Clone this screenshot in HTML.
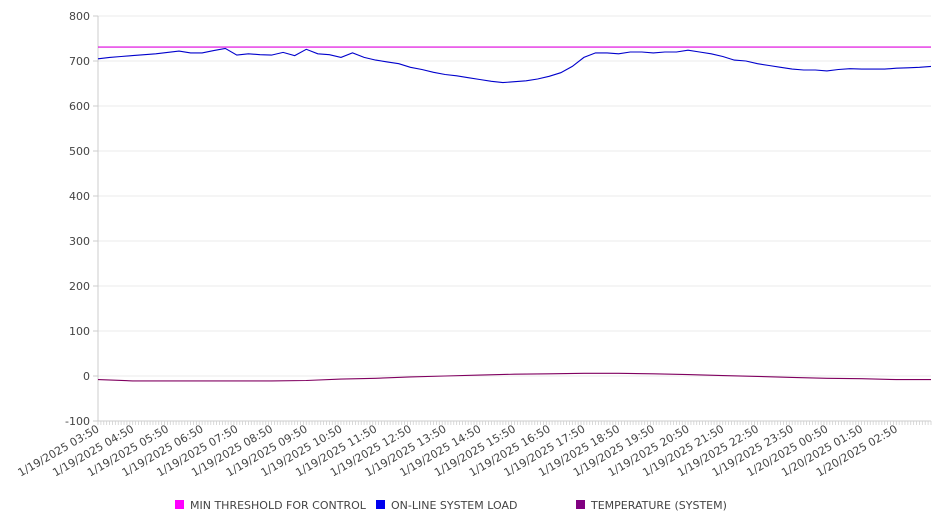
<!DOCTYPE html>
<html><head><meta charset="utf-8"><style>
body{margin:0;background:#fff;}
svg{font-family:"DejaVu Sans","Liberation Sans",sans-serif;}
</style></head><body>
<svg id="chart" width="946" height="526" viewBox="0 0 946 526" xmlns="http://www.w3.org/2000/svg">
<g id="grid"></g>
<g id="yaxis"></g>
<g id="xaxis"></g>
<g id="series"></g>
<g font-size="11" fill="#444">
  <g><rect x="175" y="500" width="9" height="9" fill="#ff00ff"/><text x="190" y="509">MIN THRESHOLD FOR CONTROL</text></g>
  <g><rect x="376" y="500" width="9" height="9" fill="#0000ee"/><text x="391" y="509">ON-LINE SYSTEM LOAD</text></g>
  <g><rect x="576" y="500" width="9" height="9" fill="#800080"/><text x="591" y="509">TEMPERATURE (SYSTEM)</text></g>
</g>
</svg>
<script>
const yTicks=[-100,0,100,200,300,400,500,600,700,800];
const xLabels=["1/19/2025 03:50","1/19/2025 04:50","1/19/2025 05:50","1/19/2025 06:50","1/19/2025 07:50","1/19/2025 08:50","1/19/2025 09:50","1/19/2025 10:50","1/19/2025 11:50","1/19/2025 12:50","1/19/2025 13:50","1/19/2025 14:50","1/19/2025 15:50","1/19/2025 16:50","1/19/2025 17:50","1/19/2025 18:50","1/19/2025 19:50","1/19/2025 20:50","1/19/2025 21:50","1/19/2025 22:50","1/19/2025 23:50","1/20/2025 00:50","1/20/2025 01:50","1/20/2025 02:50"];
const thresholdValue=731;
const loadValues=[705,708,710,712,714,716,719,722,718,718,723,728,713,716,714,713,719,712,726,716,714,708,718,708,702,698,694,686,681,675,670,667,663,659,655,652,654,656,660,666,674,688,708,718,718,716,720,720,718,720,720,724,720,716,710,702,700,694,690,686,682,680,680,678,681,683,682,682,682,684,685,686,688];
const tempValues=[-8,-11,-11,-11,-11,-11,-10,-7,-5,-2,0,2,4,5,6,6,5,3,1,-1,-3,-5,-6,-8,-8];

const NS="http://www.w3.org/2000/svg";
const L=98,R=931,T=16,B=421,yMin=-100,yMax=800,hours=24;
const y=v=>T+(yMax-v)/(yMax-yMin)*(B-T);
const xh=h=>L+h/hours*(R-L);
function mk(tag,attrs,parent){const e=document.createElementNS(NS,tag);for(const k in attrs)e.setAttribute(k,attrs[k]);parent.appendChild(e);return e;}
const grid=document.getElementById('grid'),ya=document.getElementById('yaxis'),xa=document.getElementById('xaxis'),se=document.getElementById('series');
yTicks.forEach(t=>{
  const g=mk('line',{x1:L,x2:R,y1:y(t),y2:y(t),stroke:'#ebebeb','stroke-width':1},grid);
  
  
  const tk=mk('line',{x1:L-5,x2:L,y1:y(t),y2:y(t),stroke:'#ccc'},ya);
  
  
  const tx=mk('text',{x:L-8,y:y(t)+4,'text-anchor':'end','font-size':11,fill:'#444'},ya);
  
  
  tx.textContent=t;
});
const ax=mk('line',{x1:L,x2:L,y1:T,y2:B,stroke:'#ccc'},ya);


const bx=mk('line',{x1:L,x2:R,y1:B,y2:B,stroke:'#ccc'},xa);


for(let i=0;i<=hours*12;i++){
  const xx=L+i*(R-L)/(hours*12);
  const m=mk('line',{x1:xx,x2:xx,y1:B,y2:B+4,stroke:'#d0d0d0','stroke-width':0.8},xa);
  
  
}
xLabels.forEach((s,i)=>{
  const xx=xh(i);
  const t=mk('text',{x:0,y:0,'text-anchor':'end','font-size':11,fill:'#444',transform:`translate(${xx+2},${B+10}) rotate(-30)`},xa);
  
  
  t.textContent=s;
});
const th=mk('line',{x1:L,x2:R,y1:y(thresholdValue),y2:y(thresholdValue),stroke:'#dd00dd','stroke-width':1.2},se);


function poly(vals,color,name){
  const n=vals.length-1;
  const pts=vals.map((v,i)=>`${xh(i/n*hours).toFixed(1)},${y(v).toFixed(1)}`).join(' ');
  const p=mk('polyline',{points:pts,fill:'none',stroke:color,'stroke-width':1.1},se);
  
  
}
poly(loadValues,'#0000cc','online-system-load-line');
poly(tempValues,'#800060','temperature-line');
</script>
</body></html>
